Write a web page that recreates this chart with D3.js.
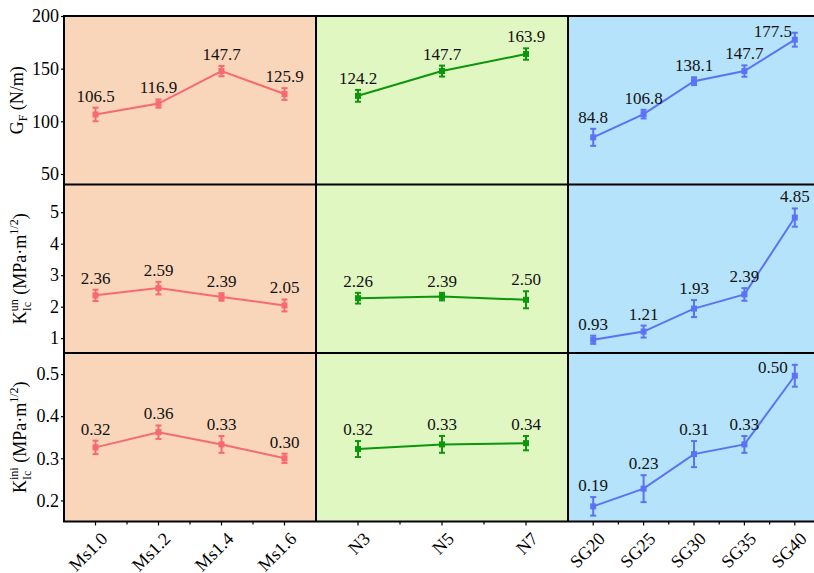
<!DOCTYPE html>
<html>
<head>
<meta charset="utf-8">
<script src="https://cdn.jsdelivr.net/npm/d3@7"></script>
<style>
  body { margin: 0; background: #fff; }
  svg, svg text { font-family: 'Liberation Serif', 'Times New Roman', Times, 'DejaVu Serif', serif; }
</style>
</head>
<body>
<svg id="chart" width="814" height="573"></svg>
<script>
// categories
const msGroups = ['Ms1.0', 'Ms1.2', 'Ms1.4', 'Ms1.6'];
const nGroups = ['N3', 'N5', 'N7'];
const sgGroups = ['SG20', 'SG25', 'SG30', 'SG35', 'SG40'];

// G_F (N/m)
const gfMs = [106.5, 116.9, 147.7, 125.9];
const gfMsErr = [6.5, 3.9, 4.9, 5.6];
const gfN = [124.2, 147.7, 163.9];
const gfNErr = [5.6, 5.2, 5.4];
const gfSG = [84.8, 106.8, 138.1, 147.7, 177.5];
const gfSGErr = [8.1, 4.1, 3.7, 5.4, 6.6];
const gfTicks = [50, 100, 150, 200];

// K_Ic^un
const kunMs = [2.36, 2.59, 2.31, 2.04];
const kunMsErr = [0.18, 0.2, 0.12, 0.19];
const kunMsLabels = ['2.36', '2.59', '2.39', '2.05'];
const kunN = [2.27, 2.32, 2.22];
const kunNErr = [0.17, 0.12, 0.27];
const kunNLabels = ['2.26', '2.39', '2.50'];
const kunSG = [0.95, 1.21, 1.94, 2.39, 4.83];
const kunSGErr = [0.13, 0.19, 0.27, 0.2, 0.29];
const kunSGLabels = ['0.93', '1.21', '1.93', '2.39', '4.85'];
const kunTicks = [1, 2, 3, 4, 5];

// K_Ic^ini
const kiniMs = [0.326, 0.362, 0.333, 0.300];
const kiniMsErr = [0.016, 0.016, 0.02, 0.011];
const kiniMsLabels = ['0.32', '0.36', '0.33', '0.30'];
const kiniN = [0.322, 0.333, 0.336];
const kiniNErr = [0.019, 0.02, 0.017];
const kiniNLabels = ['0.32', '0.33', '0.34'];
const kiniSG = [0.186, 0.228, 0.310, 0.333, 0.496];
const kiniSGErr = [0.022, 0.032, 0.031, 0.02, 0.026];
const kiniSGLabels = ['0.19', '0.23', '0.31', '0.33', '0.50'];
const kiniTicks = [0.2, 0.3, 0.4, 0.5];

const FONT = "'Liberation Serif', 'Times New Roman', Times, 'DejaVu Serif', serif";
const svg = d3.select('#chart').attr('font-family', FONT);
const plotLeft = 64, plotTop = 16, colW = 252, rowH = 168.5;
const plotRight = plotLeft + colW * 3;
const plotBottom = plotTop + rowH * 3;

const cols = [
  { cats: msGroups, bg: '#f9d6b9', color: '#f66a70' },
  { cats: nGroups, bg: '#e0f7c2', color: '#0c960c' },
  { cats: sgGroups, bg: '#b5e3fb', color: '#5c72f6' }
];

const fmt1 = d3.format('.1f');
const rows = [
  { domain: [40, 200], ticks: gfTicks, tickFmt: d3.format('d'),
    values: [gfMs, gfN, gfSG], errs: [gfMsErr, gfNErr, gfSGErr],
    labels: [gfMs.map(fmt1), gfN.map(fmt1), gfSG.map(fmt1)] },
  { domain: [0.53, 5.88], ticks: kunTicks, tickFmt: d3.format('d'),
    values: [kunMs, kunN, kunSG], errs: [kunMsErr, kunNErr, kunSGErr],
    labels: [kunMsLabels, kunNLabels, kunSGLabels] },
  { domain: [0.15, 0.55], ticks: kiniTicks, tickFmt: d3.format('.1f'),
    values: [kiniMs, kiniN, kiniSG], errs: [kiniMsErr, kiniNErr, kiniSGErr],
    labels: [kiniMsLabels, kiniNLabels, kiniSGLabels] }
];

// column x scales
cols.forEach((c, ci) => {
  c.x = d3.scalePoint().domain(c.cats)
    .range([plotLeft + ci * colW, plotLeft + (ci + 1) * colW]).padding(0.5);
});

// backgrounds
svg.selectAll('rect.bg').data(cols).enter().append('rect')
  .attr('class', 'bg')
  .attr('x', (d, i) => plotLeft + i * colW)
  .attr('y', plotTop)
  .attr('width', colW)
  .attr('height', rowH * 3)
  .attr('fill', d => d.bg);

// labels that sit to the left of the point instead of above
const sideLabels = new Set(['0-SG40', '2-SG40']);

rows.forEach((r, ri) => {
  const y0 = plotTop + ri * rowH;
  const y = d3.scaleLinear().domain(r.domain).range([y0 + rowH, y0]);

  const ax = svg.append('g')
    .attr('transform', `translate(${plotLeft},0)`)
    .call(d3.axisLeft(y).tickValues(r.ticks).tickFormat(r.tickFmt)
      .tickSize(3).tickPadding(2));
  ax.attr('font-family', FONT).attr('font-size', 18);
  ax.select('.domain').remove();
  ax.selectAll('line').attr('stroke', '#000').attr('stroke-width', 1.2);
  ax.selectAll('text').attr('fill', '#000');

  cols.forEach((c, ci) => {
    const vals = r.values[ci];
    const errs = r.errs[ci];
    const pts = c.cats.map((k, i) => ({ k, v: vals[i], e: errs[i], lab: r.labels[ci][i] }));
    const g = svg.append('g');

    g.append('path').datum(pts)
      .attr('fill', 'none')
      .attr('stroke', c.color)
      .attr('stroke-width', 2)
      .attr('d', d3.line().x(d => c.x(d.k)).y(d => y(d.v)));

    const eb = g.selectAll('g.eb').data(pts).enter().append('g')
      .attr('stroke', c.color).attr('stroke-width', 2);
    eb.append('line')
      .attr('x1', d => c.x(d.k)).attr('x2', d => c.x(d.k))
      .attr('y1', d => y(d.v - d.e)).attr('y2', d => y(d.v + d.e));
    eb.append('line')
      .attr('x1', d => c.x(d.k) - 3).attr('x2', d => c.x(d.k) + 3)
      .attr('y1', d => y(d.v + d.e)).attr('y2', d => y(d.v + d.e));
    eb.append('line')
      .attr('x1', d => c.x(d.k) - 3).attr('x2', d => c.x(d.k) + 3)
      .attr('y1', d => y(d.v - d.e)).attr('y2', d => y(d.v - d.e));

    g.selectAll('rect.mk').data(pts).enter().append('rect')
      .attr('x', d => c.x(d.k) - 3).attr('y', d => y(d.v) - 3)
      .attr('width', 6).attr('height', 6)
      .attr('fill', c.color);

    g.selectAll('text.val').data(pts).enter().append('text')
      .attr('text-anchor', 'middle')
      .attr('font-size', 17)
      .attr('fill', '#111')
      .attr('x', d => sideLabels.has(ri + '-' + d.k) ? c.x(d.k) - 22 : c.x(d.k))
      .attr('y', d => sideLabels.has(ri + '-' + d.k) ? y(d.v) - 3 : y(d.v + d.e) - 6)
      .text(d => d.lab);
  });
});

// frame and dividers
const frame = svg.append('g').attr('stroke', '#000').attr('stroke-width', 2).attr('fill', 'none');
frame.append('rect').attr('x', plotLeft).attr('y', plotTop)
  .attr('width', plotRight - plotLeft).attr('height', plotBottom - plotTop);
[1, 2].forEach(i => {
  frame.append('line').attr('x1', plotLeft + i * colW).attr('x2', plotLeft + i * colW)
    .attr('y1', plotTop).attr('y2', plotBottom);
  frame.append('line').attr('x1', plotLeft).attr('x2', plotRight)
    .attr('y1', plotTop + i * rowH).attr('y2', plotTop + i * rowH);
});

// bottom ticks and category labels
cols.forEach(c => {
  const step = c.x.step();
  const g = svg.append('g');
  g.selectAll('line.maj').data(c.cats).enter().append('line')
    .attr('x1', d => c.x(d)).attr('x2', d => c.x(d))
    .attr('y1', plotBottom).attr('y2', plotBottom + 4)
    .attr('stroke', '#000').attr('stroke-width', 1.2);
  g.selectAll('line.min').data(c.cats.slice(1)).enter().append('line')
    .attr('x1', d => c.x(d) - step / 2).attr('x2', d => c.x(d) - step / 2)
    .attr('y1', plotBottom).attr('y2', plotBottom + 3)
    .attr('stroke', '#000').attr('stroke-width', 1.2);
  g.selectAll('text').data(c.cats).enter().append('text')
    .attr('text-anchor', 'end')
    .attr('font-size', 18)
    .attr('fill', '#000')
    .attr('transform', d => `translate(${c.x(d) + 13},540) rotate(-45)`)
    .text(d => d);
});

// y axis titles
function title(cy, x, parts) {
  const t = svg.append('text')
    .attr('transform', `translate(${x},${cy}) rotate(-90)`)
    .attr('text-anchor', 'middle')
    .attr('font-size', 18)
    .attr('fill', '#000');
  parts.forEach(p => {
    const s = t.append('tspan').text(p.t);
    if (p.fs) s.attr('font-size', p.fs);
    if (p.dx) s.attr('dx', p.dx);
    if (p.dy) s.attr('dy', p.dy);
  });
}
title(plotTop + rowH / 2, 23, [
  { t: 'G' }, { t: 'F', fs: 12, dy: 4 }, { t: ' (N/m)', dy: -4 }
]);
title(plotTop + rowH * 1.5, 26, [
  { t: 'K' }, { t: 'Ic', fs: 12, dy: 5 }, { t: 'un', fs: 12, dx: -9.3, dy: -13 },
  { t: ' (MPa·m', dy: 8 }, { t: '1/2', fs: 12, dy: -8 }, { t: ')', dy: 8 }
]);
title(plotTop + rowH * 2.5, 26, [
  { t: 'K' }, { t: 'Ic', fs: 12, dy: 5 }, { t: 'ini', fs: 12, dx: -9.3, dy: -13 },
  { t: ' (MPa·m', dy: 8 }, { t: '1/2', fs: 12, dy: -8 }, { t: ')', dy: 8 }
]);
</script>
</body>
</html>
